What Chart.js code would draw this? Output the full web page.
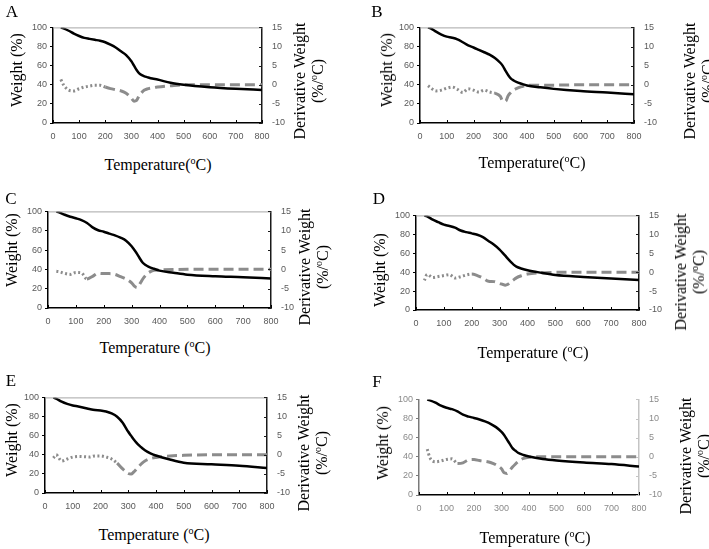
<!DOCTYPE html>
<html>
<head>
<meta charset="utf-8">
<script src="https://cdn.jsdelivr.net/npm/chart.js@4.4.1/dist/chart.umd.min.js"></script>
<style>
  body { margin: 0; background: #fff; width: 709px; height: 549px; position: relative; overflow: hidden;
         font-family: "Liberation Serif", "Times New Roman", serif; }
  canvas { position: absolute; }
  .t { position: absolute; white-space: nowrap; font-size: 16px; line-height: 18px; color: #000;
       text-align: center; transform: translate(-50%, -50%); }
  .v { transform: translate(-50%, -50%) rotate(-90deg); }
  .lab { font-size: 17px; }
  sup { font-size: 10px; vertical-align: 6px; line-height: 0; }
</style>
</head>
<body>
<script>
// TGA data: temperature (°C), weight (%), derivative weight (%/°C)
const temps = [30, 40, 60, 80, 100, 120, 140, 160, 180, 200, 220, 240, 260, 280, 300, 310, 320, 330, 340, 350, 360, 380, 400, 450, 500, 600, 700, 800];

const weightA = [100, 99, 96.5, 93.5, 91, 89, 88, 87, 86, 84.5, 82, 79, 75, 71, 64.5, 60, 55.5, 52, 50, 48.8, 48, 46.5, 45.5, 42, 40, 37.5, 35.8, 34.5];
const derivA = [1.4, 0, -1.4, -1.6, -1.05, -0.6, -0.35, -0.15, -0.15, -0.6, -1.0, -1.3, -1.6, -2.2, -3.5, -4.3, -4.1, -2.8, -2.0, -1.4, -1.1, -0.8, -0.6, -0.25, 0, 0, 0, 0];

const weightB = [100, 99, 95.5, 92.5, 90.3, 89.2, 87.5, 84.5, 81.2, 79, 76.5, 74, 71.5, 68, 63, 59.5, 54.5, 50, 46.5, 44.5, 43, 41, 39.3, 37.3, 35.7, 33.4, 31.8, 30];
const derivB = [-0.25, -0.8, -1.6, -1.4, -0.9, -0.6, -1.2, -2.0, -1.05, -1.4, -1.9, -1.4, -1.9, -2.2, -3.0, -4.3, -4.3, -2.8, -2.0, -1.4, -1.0, -0.5, -0.15, -0.1, -0.1, 0, 0, 0];

const weightC = [100, 99, 96.5, 94.5, 92.9, 91, 88, 83.5, 80.5, 79, 77, 75.2, 72.8, 69.7, 63.9, 60, 55.8, 51, 46.8, 44.5, 42.9, 40.6, 38.7, 36.5, 34.5, 32.9, 31.9, 30.6];
const derivC = [-0.5, -0.6, -1.05, -1.3, -0.8, -0.9, -2.5, -1.8, -1.0, -1.1, -1.1, -1.3, -1.9, -2.5, -3.5, -4.35, -4.7, -3.7, -2.5, -1.6, -0.9, -0.25, -0.15, -0.05, 0, 0, 0, 0];

const weightD = [100, 99, 95.5, 92.8, 90.2, 88.8, 87, 84, 82.3, 81, 79.5, 77, 73, 68.9, 63.9, 60.7, 57.4, 54, 50.8, 48, 45.9, 43.6, 42, 39.3, 37, 35, 33.4, 31.8];
const derivD = [-2.2, -0.6, -1.4, -1.15, -0.9, -0.65, -1.55, -1.2, -0.75, -0.5, -0.9, -1.55, -2.4, -2.5, -3.0, -3.2, -3.45, -3.2, -2.6, -2.05, -1.5, -0.9, -0.5, -0.15, -0.05, 0, 0, 0];

const weightE = [100, 98.8, 95.5, 93.2, 91.6, 90.5, 89.2, 87.8, 86.7, 86.4, 85.3, 83.3, 79.8, 73.5, 64, 60, 56, 52.5, 49.5, 47, 44.7, 41.4, 39.2, 35, 31.7, 30.1, 28.5, 26.2];
const derivE = [-0.85, 0, -1.65, -1.1, -0.6, -0.45, -0.5, -0.6, -0.3, -0.3, -0.6, -1.1, -2.2, -3.7, -4.9, -5.05, -4.5, -3.7, -2.9, -2.2, -1.65, -1.0, -0.7, -0.3, -0.15, 0, 0, 0];

const weightF = [100, 99, 96.5, 93.5, 91.3, 89.8, 87.5, 84, 82, 80.6, 79, 77, 74.5, 71, 66, 62.5, 58, 53.5, 49, 46.5, 44.2, 41.9, 40.3, 37.7, 36.1, 33.9, 32.3, 29.7];
const derivF = [2.0, -0.3, -1.3, -1.1, -0.7, -0.55, -1.75, -1.6, -0.8, -0.7, -1.0, -1.2, -1.5, -2.1, -3.15, -4.2, -4.35, -3.55, -2.7, -1.95, -1.3, -0.4, -0.1, 0, 0, 0, 0, 0];

// axis ranges
const tempRange = [0, 800, 100];
const weightRange = [0, 100, 20];
const derivRange = [-10, 15, 5];

const tOC = 'Temperature(<sup>o</sup>C)';
const tOCs = 'Temperature (<sup>o</sup>C)';

// layout of the six panels: plot box [left, top, right, bottom] and title spots
const panels = [
  { name: 'A', weight: weightA, deriv: derivA, box: [53, 20, 262, 123], dotTo: 200,
    letter: [12, 12], yT: [17, 70], xT: [158, 165, tOC], rT: [309, 81] },
  { name: 'B', weight: weightB, deriv: derivB, box: [420, 20, 634, 123], dotTo: 280,
    letter: [377, 12], yT: [387, 70], xT: [532, 163, tOC], rT: [699, 81] },
  { name: 'C', weight: weightC, deriv: derivC, box: [48, 204, 271, 308], dotTo: 130,
    letter: [11, 199], yT: [12, 250], xT: [155, 348, tOCs], rT: [314, 267] },
  { name: 'D', weight: weightD, deriv: derivD, box: [416, 208, 639, 310], dotTo: 200,
    letter: [379, 199], yT: [380, 270], xT: [533, 353, tOCs], rT: [690, 272] },
  { name: 'E', weight: weightE, deriv: derivE, box: [45, 390, 267, 493], dotTo: 260,
    letter: [11, 381], yT: [12, 440], xT: [154, 535, tOCs], rT: [313, 453] },
  { name: 'F', weight: weightF, deriv: derivF, box: [419, 392, 639, 495], dotTo: 140,
    letter: [377, 382], yT: [383, 443], xT: [535, 538, tOCs], rT: [695, 456], light: true }
];

// top frame line + inward tick marks on the bottom and right axes
const frame = {
  id: 'frame',
  afterDraw(chart, args, o) {
    const { ctx, chartArea: a, scales } = chart;
    ctx.save();
    ctx.lineWidth = 1;
    if (o.top) {
      ctx.strokeStyle = o.top;
      ctx.beginPath(); ctx.moveTo(a.left, a.top + 0.5); ctx.lineTo(a.right, a.top + 0.5); ctx.stroke();
    }
    ctx.strokeStyle = o.xTick;
    scales.x.ticks.forEach(t => {
      const px = Math.round(scales.x.getPixelForValue(t.value)) + 0.5;
      ctx.beginPath(); ctx.moveTo(px, a.bottom); ctx.lineTo(px, a.bottom - 3); ctx.stroke();
    });
    ctx.strokeStyle = o.rTick;
    scales.y2.ticks.forEach(t => {
      const py = Math.round(scales.y2.getPixelForValue(t.value)) + 0.5;
      ctx.beginPath(); ctx.moveTo(a.right, py); ctx.lineTo(a.right - 3, py); ctx.stroke();
    });
    ctx.restore();
  }
};

function addText(html, x, y, cls) {
  const d = document.createElement('div');
  d.className = 't ' + (cls || '');
  d.style.left = x + 'px';
  d.style.top = y + 'px';
  d.innerHTML = html;
  document.body.appendChild(d);
}

const L = 36, R = 36, T = 8, B = 26;

panels.forEach(p => {
  const [l, t, r, b] = p.box;
  const cv = document.createElement('canvas');
  cv.width = r - l + L + R;
  cv.height = b - t + T + B;
  cv.style.left = (l - L) + 'px';
  cv.style.top = (t - T) + 'px';
  document.body.appendChild(cv);

  const tickColor = p.light ? '#8a8a8a' : '#595959';
  const tickFont = { family: '"Liberation Sans", Arial, sans-serif', size: 9 };
  const leftAxis = p.light ? '#7a7a7a' : '#000';
  const rightAxis = p.light ? '#c4c4c4' : '#1a1a1a';

  new Chart(cv, {
    type: 'line',
    data: {
      datasets: [
        {
          label: 'Weight',
          data: temps.map((x, i) => ({ x, y: p.weight[i] })),
          yAxisID: 'y',
          borderColor: '#000',
          borderWidth: 2.5,
          pointRadius: 0,
          cubicInterpolationMode: 'monotone'
        },
        {
          label: 'Derivative Weight',
          data: temps.map((x, i) => ({ x, y: p.deriv[i] })),
          yAxisID: 'y2',
          borderColor: '#8c8c8c',
          borderWidth: 3,
          pointRadius: 0,
          cubicInterpolationMode: 'monotone',
          segment: { borderDash: c => c.p0.parsed.x < p.dotTo ? [2, 2.5] : [10, 5] }
        }
      ]
    },
    options: {
      responsive: false,
      animation: false,
      events: [],
      layout: { padding: { top: T, left: 0, right: 0, bottom: 0 } },
      plugins: {
        legend: { display: false },
        tooltip: { enabled: false },
        frame: { top: p.light ? null : '#a6a6a6', xTick: '#000', rTick: rightAxis }
      },
      scales: {
        x: {
          type: 'linear', min: tempRange[0], max: tempRange[1],
          ticks: { stepSize: tempRange[2], color: tickColor, font: tickFont, padding: 8, maxRotation: 0 },
          grid: { drawOnChartArea: false, drawTicks: false },
          border: { color: '#000', width: 1.5 },
          afterFit: s => { s.height = B; }
        },
        y: {
          position: 'left', min: weightRange[0], max: weightRange[1],
          ticks: { stepSize: weightRange[2], color: tickColor, font: tickFont, padding: 3 },
          grid: { drawOnChartArea: false, tickLength: 3, color: leftAxis },
          border: { color: leftAxis, width: 1.5 },
          afterFit: s => { s.width = L; }
        },
        y2: {
          position: 'right', min: derivRange[0], max: derivRange[1],
          ticks: { stepSize: derivRange[2], color: tickColor, font: tickFont, padding: 10 },
          grid: { drawOnChartArea: false, drawTicks: false },
          border: { color: rightAxis, width: 1.5 },
          afterFit: s => { s.width = R; }
        }
      }
    },
    plugins: [frame]
  });

  addText(p.name, p.letter[0], p.letter[1], 'lab');
  addText('Weight (%)', p.yT[0], p.yT[1], 'v');
  addText(p.xT[2], p.xT[0], p.xT[1]);
  addText('Derivative Weight<br>(%/<sup>o</sup>C)', p.rT[0], p.rT[1], 'v');
});
</script>
</body>
</html>
